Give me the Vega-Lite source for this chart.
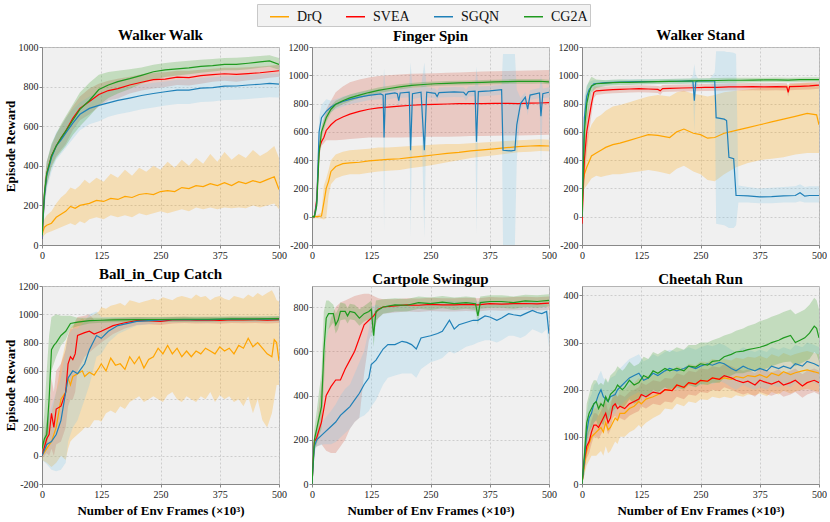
{
  "$schema": "https://vega.github.io/schema/vega-lite/v6.json",
  "padding": {"left": 3, "top": 3, "right": 0, "bottom": 0},
  "background": "white",
  "config": {
    "font": "Liberation Serif, Times New Roman, DejaVu Serif, serif",
    "view": {"fill": "#f0f0f0", "stroke": "#b4b4b4"},
    "axis": {
      "labelFont": "Liberation Serif, Times New Roman, DejaVu Serif, serif", "labelFontSize": 10, "labelColor": "#222", "labelPadding": 1,
      "labelFlush": false, "labelOverlap": false,
      "titleFont": "Liberation Serif, Times New Roman, DejaVu Serif, serif", "titleFontSize": 13, "titleFontWeight": "bold", "titleColor": "#000",
      "domainColor": "#888", "tickColor": "#888", "tickSize": 3,
      "gridColor": "#c4c4c4", "gridDash": [2, 2], "gridWidth": 0.8
    },
    "axisX": {"titlePadding": 5, "labelPadding": 2},
    "axisY": {"titlePadding": 1},
    "title": {"font": "Liberation Serif, Times New Roman, DejaVu Serif, serif", "fontSize": 15, "fontWeight": "bold", "offset": -1},
    "legend": {
      "symbolType": "stroke", "symbolSize": 361, "symbolStrokeWidth": 1.5, "symbolOffset": 10,
      "labelFont": "Liberation Serif, Times New Roman, DejaVu Serif, serif", "labelFontSize": 14, "labelColor": "#111", "labelOffset": 7,
      "columnPadding": 13, "fillColor": "#f2f2f2", "strokeColor": "#c8c8c8", "padding": 2
    }
  },
  "resolve": {"legend": {"stroke": "independent"}},
  "concat": [
    {
      "title": "Walker Walk", "width": 237, "height": 198, "data": {"name": "ww"},
      "encoding": {"x": {"field": "x", "type": "quantitative", "scale": {"domain": [0, 500], "nice": false}, "axis": {"values": [0, 125, 250, 375, 500], "title": null}}},
      "layer": [
        {"mark": {"type": "area", "fillOpacity": 0.25, "clip": true},
         "encoding": {
           "y": {"field": "l", "type": "quantitative", "scale": {"domain": [0, 1000], "nice": false, "zero": false}, "axis": {"values": [0, 200, 400, 600, 800, 1000], "labelExpr": "datum.value + ''", "title": "Episode Reward"}},
           "y2": {"field": "h"},
           "fill": {"field": "s", "type": "nominal", "scale": {"domain": ["DrQ", "SVEA", "SGQN", "CG2A"], "range": ["#ffa500", "#d4553a", "#7ec8e8", "#3ca028"]}, "legend": null}}},
        {"mark": {"type": "line", "strokeWidth": 1.2, "clip": true},
         "encoding": {
           "y": {"field": "y", "type": "quantitative", "axis": {"values": [0, 200, 400, 600, 800, 1000], "labelExpr": "datum.value + ''", "title": "Episode Reward"}},
           "stroke": {"field": "s", "type": "nominal", "scale": {"domain": ["DrQ", "SVEA", "SGQN", "CG2A"], "range": ["#ffa500", "#ff0000", "#1f80b8", "#1f9a1f"]}, "legend": null}}}
      ]
    },
    {
      "title": {"text": "Finger Spin", "offset": -40}, "width": 237, "height": 198, "data": {"name": "fs"},
      "encoding": {"x": {"field": "x", "type": "quantitative", "scale": {"domain": [0, 500], "nice": false}, "axis": {"values": [0, 125, 250, 375, 500], "title": null}}},
      "layer": [
        {"mark": {"type": "area", "fillOpacity": 0.25, "clip": true},
         "encoding": {
           "y": {"field": "l", "type": "quantitative", "scale": {"domain": [-200, 1200], "nice": false, "zero": false}, "axis": {"values": [-200, 0, 200, 400, 600, 800, 1000, 1200], "labelExpr": "datum.value + ''", "title": null}},
           "y2": {"field": "h"},
           "fill": {"field": "s", "type": "nominal", "scale": {"domain": ["DrQ", "SVEA", "SGQN", "CG2A"], "range": ["#ffa500", "#d4553a", "#7ec8e8", "#3ca028"]}, "legend": null}}},
        {"mark": {"type": "line", "strokeWidth": 1.2, "clip": true},
         "encoding": {
           "y": {"field": "y", "type": "quantitative", "axis": {"values": [-200, 0, 200, 400, 600, 800, 1000, 1200], "labelExpr": "datum.value + ''", "title": null}},
           "stroke": {"field": "s", "type": "nominal", "scale": {"domain": ["DrQ", "SVEA", "SGQN", "CG2A"], "range": ["#ffa500", "#ff0000", "#1f80b8", "#1f9a1f"]}, "legend": {"title": null, "orient": "none", "legendX": -55, "legendY": -43, "direction": "horizontal"}}}}
      ]
    },
    {
      "title": "Walker Stand", "width": 237, "height": 198, "data": {"name": "ws"},
      "encoding": {"x": {"field": "x", "type": "quantitative", "scale": {"domain": [0, 500], "nice": false}, "axis": {"values": [0, 125, 250, 375, 500], "title": null}}},
      "layer": [
        {"mark": {"type": "area", "fillOpacity": 0.25, "clip": true},
         "encoding": {
           "y": {"field": "l", "type": "quantitative", "scale": {"domain": [-200, 1200], "nice": false, "zero": false}, "axis": {"values": [-200, 0, 200, 400, 600, 800, 1000, 1200], "labelExpr": "datum.value + ''", "title": null}},
           "y2": {"field": "h"},
           "fill": {"field": "s", "type": "nominal", "scale": {"domain": ["DrQ", "SVEA", "SGQN", "CG2A"], "range": ["#ffa500", "#d4553a", "#7ec8e8", "#3ca028"]}, "legend": null}}},
        {"mark": {"type": "line", "strokeWidth": 1.2, "clip": true},
         "encoding": {
           "y": {"field": "y", "type": "quantitative", "axis": {"values": [-200, 0, 200, 400, 600, 800, 1000, 1200], "labelExpr": "datum.value + ''", "title": null}},
           "stroke": {"field": "s", "type": "nominal", "scale": {"domain": ["DrQ", "SVEA", "SGQN", "CG2A"], "range": ["#ffa500", "#ff0000", "#1f80b8", "#1f9a1f"]}, "legend": null}}}
      ]
    },
    {
      "title": "Ball_in_Cup Catch", "width": 237, "height": 198, "data": {"name": "bic"},
      "encoding": {"x": {"field": "x", "type": "quantitative", "scale": {"domain": [0, 500], "nice": false}, "axis": {"values": [0, 125, 250, 375, 500], "title": "Number of Env Frames (×10³)"}}},
      "layer": [
        {"mark": {"type": "area", "fillOpacity": 0.25, "clip": true},
         "encoding": {
           "y": {"field": "l", "type": "quantitative", "scale": {"domain": [-200, 1200], "nice": false, "zero": false}, "axis": {"values": [-200, 0, 200, 400, 600, 800, 1000, 1200], "labelExpr": "datum.value + ''", "title": "Episode Reward"}},
           "y2": {"field": "h"},
           "fill": {"field": "s", "type": "nominal", "scale": {"domain": ["DrQ", "SVEA", "SGQN", "CG2A"], "range": ["#ffa500", "#d4553a", "#7ec8e8", "#3ca028"]}, "legend": null}}},
        {"mark": {"type": "line", "strokeWidth": 1.2, "clip": true},
         "encoding": {
           "y": {"field": "y", "type": "quantitative", "axis": {"values": [-200, 0, 200, 400, 600, 800, 1000, 1200], "labelExpr": "datum.value + ''", "title": "Episode Reward"}},
           "stroke": {"field": "s", "type": "nominal", "scale": {"domain": ["DrQ", "SVEA", "SGQN", "CG2A"], "range": ["#ffa500", "#ff0000", "#1f80b8", "#1f9a1f"]}, "legend": null}}}
      ]
    },
    {
      "title": "Cartpole Swingup", "width": 237, "height": 198, "data": {"name": "cp"},
      "encoding": {"x": {"field": "x", "type": "quantitative", "scale": {"domain": [0, 500], "nice": false}, "axis": {"values": [0, 125, 250, 375, 500], "title": "Number of Env Frames (×10³)"}}},
      "layer": [
        {"mark": {"type": "area", "fillOpacity": 0.25, "clip": true},
         "encoding": {
           "y": {"field": "l", "type": "quantitative", "scale": {"domain": [0, 895], "nice": false, "zero": false}, "axis": {"values": [0, 200, 400, 600, 800], "labelExpr": "datum.value + ''", "title": null}},
           "y2": {"field": "h"},
           "fill": {"field": "s", "type": "nominal", "scale": {"domain": ["DrQ", "SVEA", "SGQN", "CG2A"], "range": ["#ffa500", "#d4553a", "#7ec8e8", "#3ca028"]}, "legend": null}}},
        {"mark": {"type": "line", "strokeWidth": 1.2, "clip": true},
         "encoding": {
           "y": {"field": "y", "type": "quantitative", "axis": {"values": [0, 200, 400, 600, 800], "labelExpr": "datum.value + ''", "title": null}},
           "stroke": {"field": "s", "type": "nominal", "scale": {"domain": ["DrQ", "SVEA", "SGQN", "CG2A"], "range": ["#ffa500", "#ff0000", "#1f80b8", "#1f9a1f"]}, "legend": null}}}
      ]
    },
    {
      "title": "Cheetah Run", "width": 237, "height": 198, "data": {"name": "ch"},
      "encoding": {"x": {"field": "x", "type": "quantitative", "scale": {"domain": [0, 500], "nice": false}, "axis": {"values": [0, 125, 250, 375, 500], "title": "Number of Env Frames (×10³)"}}},
      "layer": [
        {"mark": {"type": "area", "fillOpacity": 0.25, "clip": true},
         "encoding": {
           "y": {"field": "l", "type": "quantitative", "scale": {"domain": [0, 420], "nice": false, "zero": false}, "axis": {"values": [0, 100, 200, 300, 400], "labelExpr": "datum.value + ''", "title": null}},
           "y2": {"field": "h"},
           "fill": {"field": "s", "type": "nominal", "scale": {"domain": ["DrQ", "SVEA", "SGQN", "CG2A"], "range": ["#ffa500", "#d4553a", "#7ec8e8", "#3ca028"]}, "legend": null}}},
        {"mark": {"type": "line", "strokeWidth": 1.2, "clip": true},
         "encoding": {
           "y": {"field": "y", "type": "quantitative", "axis": {"values": [0, 100, 200, 300, 400], "labelExpr": "datum.value + ''", "title": null}},
           "stroke": {"field": "s", "type": "nominal", "scale": {"domain": ["DrQ", "SVEA", "SGQN", "CG2A"], "range": ["#ffa500", "#ff0000", "#1f80b8", "#1f9a1f"]}, "legend": null}}}
      ]
    }
  ],
  "columns": 3,
  "spacing": {"row": 41, "column": 33},
  "bounds": "flush",
  "datasets": {
    "ww": [
      {"s":"DrQ","x":0,"y":50,"l":30,"h":70},{"s":"DrQ","x":5,"y":90,"l":50,"h":130},{"s":"DrQ","x":10,"y":100,"l":60,"h":150},{"s":"DrQ","x":20,"y":110,"l":70,"h":170},{"s":"DrQ","x":30,"y":140,"l":80,"h":210},{"s":"DrQ","x":40,"y":155,"l":90,"h":240},{"s":"DrQ","x":50,"y":170,"l":100,"h":260},{"s":"DrQ","x":60,"y":195,"l":110,"h":290},{"s":"DrQ","x":70,"y":185,"l":100,"h":280},{"s":"DrQ","x":80,"y":200,"l":120,"h":300},{"s":"DrQ","x":90,"y":205,"l":110,"h":330},{"s":"DrQ","x":100,"y":210,"l":130,"h":310},{"s":"DrQ","x":115,"y":225,"l":140,"h":340},{"s":"DrQ","x":130,"y":220,"l":130,"h":320},{"s":"DrQ","x":145,"y":235,"l":150,"h":360},{"s":"DrQ","x":160,"y":230,"l":140,"h":340},{"s":"DrQ","x":175,"y":245,"l":150,"h":380},{"s":"DrQ","x":190,"y":240,"l":140,"h":350},{"s":"DrQ","x":205,"y":255,"l":160,"h":390},{"s":"DrQ","x":220,"y":260,"l":150,"h":370},{"s":"DrQ","x":235,"y":255,"l":160,"h":400},{"s":"DrQ","x":250,"y":270,"l":170,"h":380},{"s":"DrQ","x":265,"y":275,"l":160,"h":420},{"s":"DrQ","x":280,"y":270,"l":170,"h":390},{"s":"DrQ","x":295,"y":290,"l":180,"h":430},{"s":"DrQ","x":310,"y":285,"l":170,"h":400},{"s":"DrQ","x":325,"y":300,"l":190,"h":440},{"s":"DrQ","x":340,"y":295,"l":180,"h":410},{"s":"DrQ","x":355,"y":310,"l":190,"h":460},{"s":"DrQ","x":370,"y":300,"l":180,"h":420},{"s":"DrQ","x":385,"y":315,"l":190,"h":470},{"s":"DrQ","x":400,"y":300,"l":185,"h":430},{"s":"DrQ","x":415,"y":320,"l":190,"h":460},{"s":"DrQ","x":430,"y":310,"l":185,"h":440},{"s":"DrQ","x":445,"y":325,"l":200,"h":480},{"s":"DrQ","x":460,"y":315,"l":190,"h":450},{"s":"DrQ","x":475,"y":330,"l":200,"h":470},{"s":"DrQ","x":490,"y":345,"l":210,"h":500},{"s":"DrQ","x":500,"y":280,"l":180,"h":440},
      {"s":"SVEA","x":0,"y":30,"l":10,"h":50},{"s":"SVEA","x":5,"y":250,"l":200,"h":300},{"s":"SVEA","x":10,"y":360,"l":300,"h":420},{"s":"SVEA","x":20,"y":450,"l":400,"h":500},{"s":"SVEA","x":30,"y":500,"l":450,"h":560},{"s":"SVEA","x":40,"y":540,"l":480,"h":600},{"s":"SVEA","x":50,"y":575,"l":510,"h":640},{"s":"SVEA","x":65,"y":640,"l":580,"h":700},{"s":"SVEA","x":80,"y":690,"l":630,"h":750},{"s":"SVEA","x":100,"y":725,"l":660,"h":790},{"s":"SVEA","x":120,"y":760,"l":700,"h":815},{"s":"SVEA","x":140,"y":780,"l":730,"h":830},{"s":"SVEA","x":160,"y":790,"l":740,"h":840},{"s":"SVEA","x":185,"y":808,"l":765,"h":850},{"s":"SVEA","x":210,"y":822,"l":780,"h":862},{"s":"SVEA","x":235,"y":835,"l":790,"h":870},{"s":"SVEA","x":260,"y":838,"l":798,"h":873},{"s":"SVEA","x":285,"y":848,"l":808,"h":880},{"s":"SVEA","x":310,"y":845,"l":805,"h":880},{"s":"SVEA","x":335,"y":855,"l":815,"h":885},{"s":"SVEA","x":360,"y":860,"l":825,"h":890},{"s":"SVEA","x":385,"y":865,"l":830,"h":895},{"s":"SVEA","x":410,"y":862,"l":825,"h":895},{"s":"SVEA","x":435,"y":866,"l":832,"h":898},{"s":"SVEA","x":460,"y":870,"l":838,"h":902},{"s":"SVEA","x":480,"y":875,"l":845,"h":905},{"s":"SVEA","x":500,"y":880,"l":850,"h":910},
      {"s":"SGQN","x":0,"y":30,"l":10,"h":50},{"s":"SGQN","x":5,"y":240,"l":180,"h":300},{"s":"SGQN","x":10,"y":350,"l":280,"h":420},{"s":"SGQN","x":20,"y":440,"l":370,"h":510},{"s":"SGQN","x":30,"y":500,"l":430,"h":570},{"s":"SGQN","x":40,"y":530,"l":460,"h":600},{"s":"SGQN","x":50,"y":565,"l":490,"h":640},{"s":"SGQN","x":65,"y":615,"l":535,"h":685},{"s":"SGQN","x":80,"y":660,"l":580,"h":720},{"s":"SGQN","x":100,"y":690,"l":610,"h":750},{"s":"SGQN","x":120,"y":705,"l":625,"h":765},{"s":"SGQN","x":140,"y":718,"l":648,"h":778},{"s":"SGQN","x":160,"y":730,"l":660,"h":790},{"s":"SGQN","x":185,"y":742,"l":672,"h":798},{"s":"SGQN","x":210,"y":755,"l":685,"h":810},{"s":"SGQN","x":235,"y":765,"l":695,"h":820},{"s":"SGQN","x":260,"y":774,"l":704,"h":826},{"s":"SGQN","x":285,"y":782,"l":712,"h":834},{"s":"SGQN","x":310,"y":782,"l":712,"h":836},{"s":"SGQN","x":335,"y":792,"l":722,"h":844},{"s":"SGQN","x":360,"y":795,"l":725,"h":847},{"s":"SGQN","x":385,"y":802,"l":732,"h":852},{"s":"SGQN","x":410,"y":803,"l":733,"h":854},{"s":"SGQN","x":435,"y":808,"l":738,"h":858},{"s":"SGQN","x":460,"y":812,"l":742,"h":862},{"s":"SGQN","x":480,"y":816,"l":746,"h":866},{"s":"SGQN","x":500,"y":812,"l":745,"h":865},
      {"s":"CG2A","x":0,"y":50,"l":20,"h":80},{"s":"CG2A","x":5,"y":260,"l":200,"h":320},{"s":"CG2A","x":10,"y":360,"l":300,"h":420},{"s":"CG2A","x":20,"y":450,"l":390,"h":510},{"s":"CG2A","x":30,"y":500,"l":440,"h":560},{"s":"CG2A","x":40,"y":540,"l":470,"h":610},{"s":"CG2A","x":50,"y":575,"l":500,"h":650},{"s":"CG2A","x":65,"y":630,"l":555,"h":710},{"s":"CG2A","x":80,"y":685,"l":600,"h":770},{"s":"CG2A","x":100,"y":730,"l":650,"h":820},{"s":"CG2A","x":120,"y":785,"l":705,"h":860},{"s":"CG2A","x":140,"y":808,"l":742,"h":874},{"s":"CG2A","x":160,"y":825,"l":765,"h":880},{"s":"CG2A","x":185,"y":840,"l":788,"h":888},{"s":"CG2A","x":210,"y":857,"l":814,"h":897},{"s":"CG2A","x":235,"y":875,"l":835,"h":910},{"s":"CG2A","x":260,"y":884,"l":849,"h":919},{"s":"CG2A","x":285,"y":890,"l":856,"h":926},{"s":"CG2A","x":310,"y":895,"l":862,"h":930},{"s":"CG2A","x":335,"y":902,"l":870,"h":935},{"s":"CG2A","x":360,"y":906,"l":876,"h":939},{"s":"CG2A","x":385,"y":912,"l":882,"h":944},{"s":"CG2A","x":410,"y":912,"l":882,"h":946},{"s":"CG2A","x":435,"y":918,"l":888,"h":950},{"s":"CG2A","x":460,"y":925,"l":895,"h":955},{"s":"CG2A","x":480,"y":930,"l":900,"h":958},{"s":"CG2A","x":500,"y":912,"l":885,"h":945}
    ],
    "fs": [
      {"s":"DrQ","x":0,"y":0,"l":-10,"h":10},{"s":"DrQ","x":10,"y":0,"l":-10,"h":10},{"s":"DrQ","x":20,"y":5,"l":-15,"h":30},{"s":"DrQ","x":25,"y":100,"l":-20,"h":220},{"s":"DrQ","x":30,"y":200,"l":-10,"h":270},{"s":"DrQ","x":35,"y":250,"l":150,"h":330},{"s":"DrQ","x":40,"y":320,"l":230,"h":400},{"s":"DrQ","x":50,"y":355,"l":270,"h":440},{"s":"DrQ","x":65,"y":375,"l":290,"h":460},{"s":"DrQ","x":80,"y":380,"l":300,"h":470},{"s":"DrQ","x":100,"y":385,"l":300,"h":475},{"s":"DrQ","x":120,"y":395,"l":310,"h":480},{"s":"DrQ","x":140,"y":400,"l":320,"h":490},{"s":"DrQ","x":160,"y":405,"l":325,"h":490},{"s":"DrQ","x":185,"y":410,"l":330,"h":495},{"s":"DrQ","x":210,"y":420,"l":345,"h":500},{"s":"DrQ","x":235,"y":428,"l":355,"h":505},{"s":"DrQ","x":260,"y":438,"l":370,"h":510},{"s":"DrQ","x":285,"y":448,"l":385,"h":515},{"s":"DrQ","x":310,"y":455,"l":400,"h":515},{"s":"DrQ","x":335,"y":465,"l":415,"h":520},{"s":"DrQ","x":360,"y":472,"l":425,"h":525},{"s":"DrQ","x":385,"y":480,"l":435,"h":530},{"s":"DrQ","x":410,"y":488,"l":445,"h":535},{"s":"DrQ","x":435,"y":495,"l":455,"h":540},{"s":"DrQ","x":460,"y":500,"l":460,"h":545},{"s":"DrQ","x":480,"y":503,"l":465,"h":548},{"s":"DrQ","x":500,"y":500,"l":462,"h":545},
      {"s":"SVEA","x":0,"y":0,"l":-10,"h":10},{"s":"SVEA","x":5,"y":0,"l":-10,"h":10},{"s":"SVEA","x":10,"y":120,"l":60,"h":200},{"s":"SVEA","x":15,"y":480,"l":420,"h":560},{"s":"SVEA","x":20,"y":530,"l":500,"h":620},{"s":"SVEA","x":25,"y":560,"l":520,"h":700},{"s":"SVEA","x":30,"y":610,"l":540,"h":760},{"s":"SVEA","x":40,"y":650,"l":540,"h":820},{"s":"SVEA","x":50,"y":680,"l":540,"h":880},{"s":"SVEA","x":65,"y":705,"l":545,"h":920},{"s":"SVEA","x":80,"y":725,"l":550,"h":950},{"s":"SVEA","x":100,"y":745,"l":555,"h":970},{"s":"SVEA","x":120,"y":760,"l":560,"h":985},{"s":"SVEA","x":140,"y":770,"l":560,"h":995},{"s":"SVEA","x":160,"y":775,"l":560,"h":1000},{"s":"SVEA","x":185,"y":782,"l":560,"h":1005},{"s":"SVEA","x":210,"y":788,"l":562,"h":1010},{"s":"SVEA","x":235,"y":792,"l":565,"h":1012},{"s":"SVEA","x":260,"y":795,"l":565,"h":1015},{"s":"SVEA","x":285,"y":797,"l":566,"h":1018},{"s":"SVEA","x":310,"y":799,"l":568,"h":1020},{"s":"SVEA","x":335,"y":800,"l":570,"h":1024},{"s":"SVEA","x":360,"y":800,"l":570,"h":1026},{"s":"SVEA","x":385,"y":801,"l":572,"h":1028},{"s":"SVEA","x":410,"y":802,"l":574,"h":1030},{"s":"SVEA","x":435,"y":800,"l":575,"h":1032},{"s":"SVEA","x":460,"y":803,"l":576,"h":1034},{"s":"SVEA","x":480,"y":804,"l":578,"h":1036},{"s":"SVEA","x":500,"y":806,"l":580,"h":1038},
      {"s":"SGQN","x":0,"y":0,"l":-10,"h":10},{"s":"SGQN","x":5,"y":0,"l":-10,"h":10},{"s":"SGQN","x":10,"y":100,"l":40,"h":180},{"s":"SGQN","x":15,"y":600,"l":520,"h":700},{"s":"SGQN","x":20,"y":700,"l":640,"h":790},{"s":"SGQN","x":30,"y":745,"l":700,"h":830},{"s":"SGQN","x":40,"y":775,"l":740,"h":820},{"s":"SGQN","x":50,"y":795,"l":760,"h":830},{"s":"SGQN","x":65,"y":815,"l":780,"h":850},{"s":"SGQN","x":80,"y":830,"l":795,"h":865},{"s":"SGQN","x":100,"y":845,"l":810,"h":880},{"s":"SGQN","x":120,"y":858,"l":823,"h":893},{"s":"SGQN","x":145,"y":868,"l":833,"h":903},{"s":"SGQN","x":150,"y":860,"l":820,"h":900},{"s":"SGQN","x":152,"y":560,"l":-100,"h":1050},{"s":"SGQN","x":155,"y":865,"l":825,"h":905},{"s":"SGQN","x":175,"y":875,"l":840,"h":910},{"s":"SGQN","x":180,"y":870,"l":835,"h":905},{"s":"SGQN","x":183,"y":820,"l":760,"h":880},{"s":"SGQN","x":186,"y":875,"l":840,"h":910},{"s":"SGQN","x":205,"y":880,"l":845,"h":915},{"s":"SGQN","x":208,"y":470,"l":-150,"h":1090},{"s":"SGQN","x":212,"y":870,"l":830,"h":910},{"s":"SGQN","x":230,"y":880,"l":845,"h":915},{"s":"SGQN","x":237,"y":470,"l":-150,"h":1090},{"s":"SGQN","x":242,"y":880,"l":845,"h":915},{"s":"SGQN","x":260,"y":872,"l":837,"h":907},{"s":"SGQN","x":264,"y":850,"l":810,"h":890},{"s":"SGQN","x":268,"y":878,"l":843,"h":913},{"s":"SGQN","x":300,"y":882,"l":847,"h":917},{"s":"SGQN","x":320,"y":880,"l":845,"h":915},{"s":"SGQN","x":325,"y":860,"l":820,"h":900},{"s":"SGQN","x":330,"y":885,"l":850,"h":920},{"s":"SGQN","x":344,"y":888,"l":853,"h":923},{"s":"SGQN","x":347,"y":530,"l":-130,"h":1060},{"s":"SGQN","x":351,"y":885,"l":850,"h":920},{"s":"SGQN","x":375,"y":890,"l":855,"h":925},{"s":"SGQN","x":400,"y":898,"l":863,"h":933},{"s":"SGQN","x":403,"y":470,"l":-200,"h":1150},{"s":"SGQN","x":420,"y":465,"l":-200,"h":1150},{"s":"SGQN","x":428,"y":470,"l":-200,"h":1150},{"s":"SGQN","x":432,"y":650,"l":400,"h":900},{"s":"SGQN","x":440,"y":800,"l":760,"h":840},{"s":"SGQN","x":450,"y":845,"l":810,"h":880},{"s":"SGQN","x":455,"y":760,"l":720,"h":800},{"s":"SGQN","x":460,"y":860,"l":825,"h":895},{"s":"SGQN","x":480,"y":875,"l":840,"h":910},{"s":"SGQN","x":483,"y":710,"l":350,"h":1000},{"s":"SGQN","x":487,"y":870,"l":835,"h":905},{"s":"SGQN","x":500,"y":880,"l":845,"h":915},
      {"s":"CG2A","x":0,"y":0,"l":-10,"h":10},{"s":"CG2A","x":5,"y":0,"l":-10,"h":10},{"s":"CG2A","x":10,"y":80,"l":40,"h":120},{"s":"CG2A","x":15,"y":450,"l":400,"h":500},{"s":"CG2A","x":20,"y":600,"l":560,"h":640},{"s":"CG2A","x":30,"y":700,"l":670,"h":730},{"s":"CG2A","x":40,"y":760,"l":735,"h":785},{"s":"CG2A","x":50,"y":795,"l":770,"h":820},{"s":"CG2A","x":65,"y":820,"l":795,"h":845},{"s":"CG2A","x":80,"y":840,"l":815,"h":865},{"s":"CG2A","x":100,"y":860,"l":838,"h":882},{"s":"CG2A","x":120,"y":878,"l":858,"h":898},{"s":"CG2A","x":140,"y":893,"l":873,"h":913},{"s":"CG2A","x":160,"y":905,"l":886,"h":924},{"s":"CG2A","x":185,"y":918,"l":900,"h":936},{"s":"CG2A","x":210,"y":928,"l":911,"h":945},{"s":"CG2A","x":235,"y":935,"l":918,"h":952},{"s":"CG2A","x":260,"y":940,"l":924,"h":956},{"s":"CG2A","x":285,"y":943,"l":927,"h":959},{"s":"CG2A","x":310,"y":946,"l":930,"h":962},{"s":"CG2A","x":335,"y":948,"l":932,"h":964},{"s":"CG2A","x":360,"y":950,"l":934,"h":966},{"s":"CG2A","x":385,"y":953,"l":937,"h":969},{"s":"CG2A","x":410,"y":955,"l":939,"h":971},{"s":"CG2A","x":435,"y":957,"l":941,"h":973},{"s":"CG2A","x":460,"y":957,"l":941,"h":973},{"s":"CG2A","x":480,"y":958,"l":942,"h":974},{"s":"CG2A","x":500,"y":953,"l":937,"h":969}
    ],
    "ws": [
      {"s":"DrQ","x":0,"y":200,"l":150,"h":250},{"s":"DrQ","x":5,"y":300,"l":200,"h":450},{"s":"DrQ","x":10,"y":350,"l":220,"h":560},{"s":"DrQ","x":20,"y":430,"l":270,"h":650},{"s":"DrQ","x":30,"y":450,"l":290,"h":700},{"s":"DrQ","x":40,"y":470,"l":280,"h":720},{"s":"DrQ","x":50,"y":490,"l":290,"h":750},{"s":"DrQ","x":65,"y":510,"l":300,"h":780},{"s":"DrQ","x":80,"y":520,"l":300,"h":790},{"s":"DrQ","x":100,"y":540,"l":310,"h":810},{"s":"DrQ","x":120,"y":560,"l":320,"h":830},{"s":"DrQ","x":140,"y":580,"l":330,"h":850},{"s":"DrQ","x":160,"y":575,"l":320,"h":860},{"s":"DrQ","x":185,"y":560,"l":300,"h":850},{"s":"DrQ","x":200,"y":600,"l":340,"h":880},{"s":"DrQ","x":215,"y":620,"l":360,"h":890},{"s":"DrQ","x":235,"y":590,"l":320,"h":870},{"s":"DrQ","x":250,"y":580,"l":300,"h":860},{"s":"DrQ","x":265,"y":555,"l":260,"h":850},{"s":"DrQ","x":280,"y":560,"l":250,"h":860},{"s":"DrQ","x":300,"y":590,"l":300,"h":880},{"s":"DrQ","x":325,"y":610,"l":350,"h":890},{"s":"DrQ","x":350,"y":630,"l":380,"h":900},{"s":"DrQ","x":375,"y":650,"l":400,"h":910},{"s":"DrQ","x":400,"y":670,"l":410,"h":920},{"s":"DrQ","x":425,"y":690,"l":420,"h":930},{"s":"DrQ","x":450,"y":710,"l":440,"h":940},{"s":"DrQ","x":475,"y":730,"l":450,"h":945},{"s":"DrQ","x":495,"y":720,"l":450,"h":940},{"s":"DrQ","x":500,"y":650,"l":450,"h":920},
      {"s":"SVEA","x":0,"y":-50,"l":-80,"h":-20},{"s":"SVEA","x":5,"y":400,"l":250,"h":550},{"s":"SVEA","x":10,"y":600,"l":450,"h":720},{"s":"SVEA","x":15,"y":700,"l":600,"h":800},{"s":"SVEA","x":20,"y":800,"l":720,"h":870},{"s":"SVEA","x":25,"y":880,"l":840,"h":920},{"s":"SVEA","x":30,"y":890,"l":860,"h":920},{"s":"SVEA","x":50,"y":895,"l":870,"h":920},{"s":"SVEA","x":65,"y":898,"l":873,"h":923},{"s":"SVEA","x":80,"y":900,"l":875,"h":925},{"s":"SVEA","x":100,"y":903,"l":878,"h":928},{"s":"SVEA","x":120,"y":905,"l":880,"h":930},{"s":"SVEA","x":140,"y":903,"l":878,"h":928},{"s":"SVEA","x":160,"y":900,"l":875,"h":925},{"s":"SVEA","x":165,"y":890,"l":860,"h":920},{"s":"SVEA","x":170,"y":906,"l":881,"h":931},{"s":"SVEA","x":185,"y":908,"l":883,"h":933},{"s":"SVEA","x":210,"y":910,"l":885,"h":935},{"s":"SVEA","x":235,"y":912,"l":887,"h":937},{"s":"SVEA","x":260,"y":914,"l":889,"h":939},{"s":"SVEA","x":285,"y":915,"l":890,"h":940},{"s":"SVEA","x":310,"y":918,"l":893,"h":943},{"s":"SVEA","x":335,"y":918,"l":893,"h":943},{"s":"SVEA","x":360,"y":920,"l":895,"h":945},{"s":"SVEA","x":385,"y":918,"l":893,"h":943},{"s":"SVEA","x":410,"y":920,"l":895,"h":945},{"s":"SVEA","x":432,"y":918,"l":893,"h":943},{"s":"SVEA","x":435,"y":880,"l":850,"h":910},{"s":"SVEA","x":438,"y":920,"l":895,"h":945},{"s":"SVEA","x":460,"y":922,"l":897,"h":947},{"s":"SVEA","x":480,"y":925,"l":900,"h":950},{"s":"SVEA","x":500,"y":930,"l":905,"h":955},
      {"s":"SGQN","x":0,"y":0,"l":-50,"h":100},{"s":"SGQN","x":5,"y":700,"l":550,"h":850},{"s":"SGQN","x":10,"y":850,"l":750,"h":930},{"s":"SGQN","x":15,"y":900,"l":840,"h":950},{"s":"SGQN","x":20,"y":920,"l":880,"h":960},{"s":"SGQN","x":25,"y":940,"l":915,"h":965},{"s":"SGQN","x":50,"y":948,"l":930,"h":966},{"s":"SGQN","x":80,"y":952,"l":934,"h":970},{"s":"SGQN","x":120,"y":955,"l":937,"h":973},{"s":"SGQN","x":160,"y":956,"l":938,"h":974},{"s":"SGQN","x":200,"y":958,"l":940,"h":976},{"s":"SGQN","x":230,"y":960,"l":942,"h":978},{"s":"SGQN","x":234,"y":958,"l":900,"h":1000},{"s":"SGQN","x":237,"y":820,"l":600,"h":1080},{"s":"SGQN","x":240,"y":955,"l":900,"h":1000},{"s":"SGQN","x":245,"y":960,"l":942,"h":978},{"s":"SGQN","x":270,"y":960,"l":942,"h":978},{"s":"SGQN","x":280,"y":960,"l":900,"h":1020},{"s":"SGQN","x":283,"y":700,"l":-50,"h":1170},{"s":"SGQN","x":300,"y":690,"l":-60,"h":1170},{"s":"SGQN","x":305,"y":680,"l":-70,"h":1165},{"s":"SGQN","x":310,"y":420,"l":-80,"h":1165},{"s":"SGQN","x":320,"y":410,"l":-80,"h":1160},{"s":"SGQN","x":325,"y":150,"l":-60,"h":1150},{"s":"SGQN","x":330,"y":150,"l":100,"h":220},{"s":"SGQN","x":350,"y":148,"l":100,"h":210},{"s":"SGQN","x":375,"y":140,"l":95,"h":200},{"s":"SGQN","x":400,"y":142,"l":95,"h":205},{"s":"SGQN","x":425,"y":148,"l":100,"h":210},{"s":"SGQN","x":450,"y":150,"l":100,"h":215},{"s":"SGQN","x":460,"y":170,"l":110,"h":230},{"s":"SGQN","x":470,"y":145,"l":100,"h":210},{"s":"SGQN","x":480,"y":150,"l":100,"h":215},{"s":"SGQN","x":500,"y":150,"l":100,"h":215},
      {"s":"CG2A","x":0,"y":0,"l":-20,"h":100},{"s":"CG2A","x":5,"y":600,"l":400,"h":800},{"s":"CG2A","x":10,"y":800,"l":650,"h":920},{"s":"CG2A","x":15,"y":880,"l":780,"h":960},{"s":"CG2A","x":20,"y":925,"l":880,"h":990},{"s":"CG2A","x":30,"y":940,"l":910,"h":970},{"s":"CG2A","x":50,"y":945,"l":925,"h":965},{"s":"CG2A","x":65,"y":948,"l":928,"h":968},{"s":"CG2A","x":80,"y":950,"l":930,"h":970},{"s":"CG2A","x":100,"y":950,"l":932,"h":968},{"s":"CG2A","x":120,"y":952,"l":935,"h":970},{"s":"CG2A","x":140,"y":953,"l":936,"h":970},{"s":"CG2A","x":160,"y":955,"l":938,"h":972},{"s":"CG2A","x":185,"y":957,"l":940,"h":974},{"s":"CG2A","x":210,"y":958,"l":941,"h":975},{"s":"CG2A","x":235,"y":960,"l":943,"h":977},{"s":"CG2A","x":260,"y":962,"l":945,"h":979},{"s":"CG2A","x":285,"y":963,"l":946,"h":980},{"s":"CG2A","x":310,"y":965,"l":948,"h":982},{"s":"CG2A","x":335,"y":965,"l":948,"h":982},{"s":"CG2A","x":360,"y":966,"l":950,"h":982},{"s":"CG2A","x":385,"y":967,"l":951,"h":983},{"s":"CG2A","x":410,"y":968,"l":952,"h":984},{"s":"CG2A","x":435,"y":966,"l":950,"h":982},{"s":"CG2A","x":460,"y":969,"l":953,"h":985},{"s":"CG2A","x":480,"y":970,"l":954,"h":986},{"s":"CG2A","x":500,"y":970,"l":954,"h":986}
    ],
    "bic": [
      {"s":"DrQ","x":0,"y":0,"l":-30,"h":30},{"s":"DrQ","x":10,"y":50,"l":-50,"h":200},{"s":"DrQ","x":20,"y":100,"l":-80,"h":300},{"s":"DrQ","x":30,"y":200,"l":-50,"h":450},{"s":"DrQ","x":40,"y":400,"l":0,"h":650},{"s":"DrQ","x":50,"y":450,"l":-30,"h":800},{"s":"DrQ","x":55,"y":550,"l":50,"h":850},{"s":"DrQ","x":60,"y":500,"l":100,"h":900},{"s":"DrQ","x":65,"y":560,"l":120,"h":920},{"s":"DrQ","x":75,"y":580,"l":150,"h":950},{"s":"DrQ","x":85,"y":600,"l":180,"h":970},{"s":"DrQ","x":90,"y":560,"l":200,"h":960},{"s":"DrQ","x":100,"y":590,"l":200,"h":980},{"s":"DrQ","x":110,"y":570,"l":250,"h":1000},{"s":"DrQ","x":120,"y":620,"l":250,"h":1020},{"s":"DrQ","x":125,"y":650,"l":240,"h":1050},{"s":"DrQ","x":135,"y":600,"l":300,"h":1040},{"s":"DrQ","x":145,"y":690,"l":320,"h":1060},{"s":"DrQ","x":155,"y":640,"l":300,"h":1070},{"s":"DrQ","x":165,"y":650,"l":350,"h":1080},{"s":"DrQ","x":175,"y":610,"l":330,"h":1060},{"s":"DrQ","x":185,"y":700,"l":380,"h":1100},{"s":"DrQ","x":195,"y":650,"l":400,"h":1090},{"s":"DrQ","x":205,"y":700,"l":420,"h":1080},{"s":"DrQ","x":215,"y":620,"l":380,"h":1090},{"s":"DrQ","x":225,"y":680,"l":400,"h":1100},{"s":"DrQ","x":235,"y":700,"l":420,"h":1110},{"s":"DrQ","x":245,"y":760,"l":400,"h":1100},{"s":"DrQ","x":255,"y":720,"l":380,"h":1120},{"s":"DrQ","x":265,"y":780,"l":430,"h":1110},{"s":"DrQ","x":275,"y":720,"l":450,"h":1100},{"s":"DrQ","x":285,"y":760,"l":400,"h":1120},{"s":"DrQ","x":295,"y":700,"l":380,"h":1130},{"s":"DrQ","x":305,"y":740,"l":420,"h":1120},{"s":"DrQ","x":315,"y":700,"l":400,"h":1110},{"s":"DrQ","x":325,"y":740,"l":380,"h":1140},{"s":"DrQ","x":335,"y":720,"l":420,"h":1120},{"s":"DrQ","x":345,"y":760,"l":400,"h":1130},{"s":"DrQ","x":355,"y":740,"l":450,"h":1100},{"s":"DrQ","x":365,"y":720,"l":380,"h":1120},{"s":"DrQ","x":375,"y":770,"l":430,"h":1130},{"s":"DrQ","x":385,"y":740,"l":400,"h":1110},{"s":"DrQ","x":395,"y":760,"l":420,"h":1100},{"s":"DrQ","x":405,"y":720,"l":380,"h":1130},{"s":"DrQ","x":415,"y":780,"l":400,"h":1120},{"s":"DrQ","x":425,"y":760,"l":350,"h":1110},{"s":"DrQ","x":435,"y":830,"l":420,"h":1140},{"s":"DrQ","x":445,"y":770,"l":300,"h":1120},{"s":"DrQ","x":455,"y":800,"l":400,"h":1150},{"s":"DrQ","x":465,"y":760,"l":250,"h":1130},{"s":"DrQ","x":475,"y":720,"l":200,"h":1150},{"s":"DrQ","x":485,"y":700,"l":300,"h":1170},{"s":"DrQ","x":490,"y":820,"l":400,"h":1140},{"s":"DrQ","x":495,"y":800,"l":500,"h":1100},{"s":"DrQ","x":500,"y":670,"l":500,"h":1090},
      {"s":"SVEA","x":0,"y":0,"l":-20,"h":20},{"s":"SVEA","x":10,"y":120,"l":20,"h":250},{"s":"SVEA","x":15,"y":150,"l":0,"h":300},{"s":"SVEA","x":20,"y":300,"l":50,"h":550},{"s":"SVEA","x":25,"y":200,"l":0,"h":450},{"s":"SVEA","x":30,"y":330,"l":80,"h":600},{"s":"SVEA","x":40,"y":350,"l":100,"h":650},{"s":"SVEA","x":50,"y":450,"l":200,"h":750},{"s":"SVEA","x":55,"y":650,"l":350,"h":850},{"s":"SVEA","x":60,"y":700,"l":400,"h":900},{"s":"SVEA","x":65,"y":680,"l":400,"h":900},{"s":"SVEA","x":70,"y":720,"l":450,"h":950},{"s":"SVEA","x":75,"y":850,"l":600,"h":980},{"s":"SVEA","x":90,"y":870,"l":700,"h":990},{"s":"SVEA","x":100,"y":880,"l":730,"h":1000},{"s":"SVEA","x":110,"y":860,"l":760,"h":960},{"s":"SVEA","x":125,"y":880,"l":800,"h":960},{"s":"SVEA","x":150,"y":920,"l":860,"h":970},{"s":"SVEA","x":175,"y":940,"l":900,"h":975},{"s":"SVEA","x":200,"y":955,"l":925,"h":980},{"s":"SVEA","x":225,"y":955,"l":930,"h":978},{"s":"SVEA","x":250,"y":950,"l":925,"h":975},{"s":"SVEA","x":275,"y":960,"l":935,"h":980},{"s":"SVEA","x":300,"y":962,"l":938,"h":982},{"s":"SVEA","x":325,"y":958,"l":934,"h":978},{"s":"SVEA","x":350,"y":960,"l":936,"h":980},{"s":"SVEA","x":375,"y":957,"l":933,"h":978},{"s":"SVEA","x":400,"y":962,"l":938,"h":982},{"s":"SVEA","x":425,"y":960,"l":936,"h":980},{"s":"SVEA","x":450,"y":962,"l":938,"h":982},{"s":"SVEA","x":475,"y":958,"l":934,"h":978},{"s":"SVEA","x":500,"y":962,"l":938,"h":982},
      {"s":"SGQN","x":0,"y":0,"l":-30,"h":30},{"s":"SGQN","x":10,"y":80,"l":-60,"h":250},{"s":"SGQN","x":20,"y":100,"l":-100,"h":350},{"s":"SGQN","x":30,"y":150,"l":-110,"h":450},{"s":"SGQN","x":40,"y":250,"l":-100,"h":550},{"s":"SGQN","x":50,"y":450,"l":-50,"h":750},{"s":"SGQN","x":55,"y":550,"l":100,"h":850},{"s":"SGQN","x":65,"y":600,"l":200,"h":900},{"s":"SGQN","x":75,"y":580,"l":250,"h":900},{"s":"SGQN","x":90,"y":650,"l":400,"h":950},{"s":"SGQN","x":100,"y":750,"l":500,"h":1000},{"s":"SGQN","x":115,"y":850,"l":700,"h":1020},{"s":"SGQN","x":125,"y":830,"l":720,"h":980},{"s":"SGQN","x":140,"y":880,"l":800,"h":980},{"s":"SGQN","x":160,"y":920,"l":860,"h":980},{"s":"SGQN","x":200,"y":950,"l":920,"h":980},{"s":"SGQN","x":250,"y":960,"l":940,"h":980},{"s":"SGQN","x":300,"y":963,"l":943,"h":983},{"s":"SGQN","x":350,"y":962,"l":942,"h":982},{"s":"SGQN","x":400,"y":965,"l":945,"h":985},{"s":"SGQN","x":450,"y":965,"l":945,"h":985},{"s":"SGQN","x":500,"y":968,"l":948,"h":988},
      {"s":"CG2A","x":0,"y":50,"l":0,"h":120},{"s":"CG2A","x":5,"y":120,"l":20,"h":300},{"s":"CG2A","x":10,"y":150,"l":50,"h":600},{"s":"CG2A","x":15,"y":400,"l":200,"h":850},{"s":"CG2A","x":20,"y":750,"l":600,"h":980},{"s":"CG2A","x":25,"y":780,"l":650,"h":990},{"s":"CG2A","x":30,"y":800,"l":700,"h":1000},{"s":"CG2A","x":40,"y":850,"l":780,"h":990},{"s":"CG2A","x":50,"y":880,"l":820,"h":990},{"s":"CG2A","x":60,"y":935,"l":900,"h":990},{"s":"CG2A","x":75,"y":945,"l":915,"h":975},{"s":"CG2A","x":100,"y":955,"l":935,"h":975},{"s":"CG2A","x":125,"y":958,"l":940,"h":976},{"s":"CG2A","x":150,"y":960,"l":943,"h":977},{"s":"CG2A","x":200,"y":962,"l":945,"h":979},{"s":"CG2A","x":250,"y":963,"l":946,"h":980},{"s":"CG2A","x":300,"y":965,"l":948,"h":982},{"s":"CG2A","x":350,"y":965,"l":948,"h":982},{"s":"CG2A","x":400,"y":967,"l":950,"h":984},{"s":"CG2A","x":450,"y":968,"l":951,"h":985},{"s":"CG2A","x":500,"y":970,"l":953,"h":987}
    ],
    "cp": [
      {"s":"SVEA","x":0,"y":0,"l":0,"h":0},{"s":"SVEA","x":5,"y":190,"l":160,"h":220},{"s":"SVEA","x":10,"y":210,"l":170,"h":260},{"s":"SVEA","x":20,"y":280,"l":180,"h":450},{"s":"SVEA","x":30,"y":400,"l":150,"h":650},{"s":"SVEA","x":40,"y":440,"l":140,"h":750},{"s":"SVEA","x":50,"y":470,"l":140,"h":800},{"s":"SVEA","x":60,"y":470,"l":170,"h":820},{"s":"SVEA","x":70,"y":520,"l":200,"h":830},{"s":"SVEA","x":80,"y":560,"l":250,"h":840},{"s":"SVEA","x":90,"y":600,"l":280,"h":850},{"s":"SVEA","x":100,"y":660,"l":300,"h":855},{"s":"SVEA","x":110,"y":720,"l":500,"h":860},{"s":"SVEA","x":120,"y":740,"l":650,"h":860},{"s":"SVEA","x":130,"y":760,"l":700,"h":850},{"s":"SVEA","x":140,"y":790,"l":750,"h":840},{"s":"SVEA","x":150,"y":800,"l":770,"h":835},{"s":"SVEA","x":175,"y":805,"l":775,"h":835},{"s":"SVEA","x":200,"y":810,"l":780,"h":840},{"s":"SVEA","x":225,"y":808,"l":778,"h":838},{"s":"SVEA","x":250,"y":812,"l":782,"h":842},{"s":"SVEA","x":275,"y":810,"l":780,"h":840},{"s":"SVEA","x":300,"y":810,"l":780,"h":840},{"s":"SVEA","x":325,"y":812,"l":782,"h":842},{"s":"SVEA","x":350,"y":810,"l":780,"h":840},{"s":"SVEA","x":375,"y":815,"l":785,"h":845},{"s":"SVEA","x":400,"y":813,"l":783,"h":843},{"s":"SVEA","x":425,"y":815,"l":785,"h":845},{"s":"SVEA","x":450,"y":816,"l":786,"h":846},{"s":"SVEA","x":475,"y":814,"l":784,"h":844},{"s":"SVEA","x":500,"y":818,"l":788,"h":848},
      {"s":"SGQN","x":0,"y":0,"l":0,"h":0},{"s":"SGQN","x":5,"y":170,"l":140,"h":200},{"s":"SGQN","x":10,"y":200,"l":170,"h":240},{"s":"SGQN","x":25,"y":230,"l":180,"h":290},{"s":"SGQN","x":40,"y":260,"l":180,"h":330},{"s":"SGQN","x":50,"y":280,"l":190,"h":360},{"s":"SGQN","x":60,"y":310,"l":210,"h":400},{"s":"SGQN","x":70,"y":330,"l":230,"h":430},{"s":"SGQN","x":80,"y":350,"l":250,"h":450},{"s":"SGQN","x":90,"y":380,"l":280,"h":500},{"s":"SGQN","x":100,"y":410,"l":300,"h":550},{"s":"SGQN","x":110,"y":450,"l":310,"h":600},{"s":"SGQN","x":120,"y":480,"l":330,"h":700},{"s":"SGQN","x":125,"y":540,"l":350,"h":800},{"s":"SGQN","x":135,"y":560,"l":380,"h":810},{"s":"SGQN","x":150,"y":610,"l":450,"h":800},{"s":"SGQN","x":160,"y":630,"l":480,"h":810},{"s":"SGQN","x":175,"y":630,"l":490,"h":810},{"s":"SGQN","x":190,"y":645,"l":500,"h":815},{"s":"SGQN","x":200,"y":640,"l":500,"h":815},{"s":"SGQN","x":210,"y":630,"l":500,"h":810},{"s":"SGQN","x":220,"y":610,"l":480,"h":800},{"s":"SGQN","x":230,"y":660,"l":520,"h":815},{"s":"SGQN","x":250,"y":670,"l":550,"h":820},{"s":"SGQN","x":265,"y":680,"l":560,"h":820},{"s":"SGQN","x":275,"y":690,"l":570,"h":825},{"s":"SGQN","x":290,"y":740,"l":600,"h":830},{"s":"SGQN","x":300,"y":700,"l":590,"h":825},{"s":"SGQN","x":310,"y":720,"l":600,"h":825},{"s":"SGQN","x":325,"y":730,"l":620,"h":825},{"s":"SGQN","x":340,"y":740,"l":630,"h":825},{"s":"SGQN","x":350,"y":740,"l":640,"h":825},{"s":"SGQN","x":365,"y":760,"l":650,"h":825},{"s":"SGQN","x":375,"y":755,"l":650,"h":820},{"s":"SGQN","x":390,"y":740,"l":640,"h":815},{"s":"SGQN","x":400,"y":750,"l":650,"h":820},{"s":"SGQN","x":415,"y":770,"l":670,"h":820},{"s":"SGQN","x":425,"y":765,"l":670,"h":820},{"s":"SGQN","x":440,"y":760,"l":660,"h":815},{"s":"SGQN","x":450,"y":770,"l":670,"h":820},{"s":"SGQN","x":465,"y":785,"l":700,"h":825},{"s":"SGQN","x":475,"y":775,"l":690,"h":820},{"s":"SGQN","x":485,"y":770,"l":680,"h":815},{"s":"SGQN","x":495,"y":780,"l":700,"h":820},{"s":"SGQN","x":500,"y":680,"l":620,"h":760},
      {"s":"CG2A","x":0,"y":0,"l":0,"h":0},{"s":"CG2A","x":5,"y":200,"l":150,"h":250},{"s":"CG2A","x":10,"y":250,"l":180,"h":330},{"s":"CG2A","x":15,"y":300,"l":220,"h":420},{"s":"CG2A","x":20,"y":350,"l":250,"h":500},{"s":"CG2A","x":25,"y":600,"l":450,"h":780},{"s":"CG2A","x":30,"y":750,"l":650,"h":830},{"s":"CG2A","x":35,"y":770,"l":700,"h":830},{"s":"CG2A","x":45,"y":770,"l":730,"h":810},{"s":"CG2A","x":50,"y":720,"l":680,"h":770},{"s":"CG2A","x":55,"y":740,"l":700,"h":790},{"s":"CG2A","x":60,"y":780,"l":740,"h":820},{"s":"CG2A","x":70,"y":780,"l":745,"h":815},{"s":"CG2A","x":75,"y":760,"l":725,"h":795},{"s":"CG2A","x":80,"y":780,"l":745,"h":815},{"s":"CG2A","x":90,"y":775,"l":740,"h":810},{"s":"CG2A","x":100,"y":750,"l":715,"h":790},{"s":"CG2A","x":110,"y":770,"l":735,"h":805},{"s":"CG2A","x":120,"y":780,"l":745,"h":820},{"s":"CG2A","x":125,"y":790,"l":750,"h":830},{"s":"CG2A","x":130,"y":670,"l":620,"h":760},{"s":"CG2A","x":135,"y":780,"l":740,"h":830},{"s":"CG2A","x":150,"y":800,"l":770,"h":835},{"s":"CG2A","x":175,"y":810,"l":780,"h":840},{"s":"CG2A","x":200,"y":808,"l":780,"h":836},{"s":"CG2A","x":225,"y":820,"l":792,"h":848},{"s":"CG2A","x":250,"y":815,"l":787,"h":843},{"s":"CG2A","x":275,"y":822,"l":794,"h":850},{"s":"CG2A","x":300,"y":815,"l":787,"h":843},{"s":"CG2A","x":325,"y":820,"l":792,"h":848},{"s":"CG2A","x":345,"y":815,"l":787,"h":843},{"s":"CG2A","x":350,"y":760,"l":720,"h":810},{"s":"CG2A","x":355,"y":820,"l":792,"h":848},{"s":"CG2A","x":375,"y":825,"l":797,"h":853},{"s":"CG2A","x":400,"y":825,"l":797,"h":853},{"s":"CG2A","x":425,"y":820,"l":792,"h":848},{"s":"CG2A","x":450,"y":828,"l":800,"h":856},{"s":"CG2A","x":475,"y":825,"l":797,"h":853},{"s":"CG2A","x":500,"y":830,"l":802,"h":858}
    ],
    "ch": [
      {"s":"DrQ","x":0,"y":0,"l":0,"h":0},{"s":"DrQ","x":5,"y":40,"l":20,"h":70},{"s":"DrQ","x":10,"y":70,"l":40,"h":110},{"s":"DrQ","x":15,"y":85,"l":50,"h":130},{"s":"DrQ","x":20,"y":100,"l":60,"h":150},{"s":"DrQ","x":25,"y":105,"l":60,"h":160},{"s":"DrQ","x":30,"y":110,"l":60,"h":160},{"s":"DrQ","x":35,"y":115,"l":65,"h":170},{"s":"DrQ","x":40,"y":120,"l":70,"h":175},{"s":"DrQ","x":45,"y":110,"l":60,"h":165},{"s":"DrQ","x":50,"y":130,"l":80,"h":180},{"s":"DrQ","x":55,"y":115,"l":65,"h":170},{"s":"DrQ","x":60,"y":120,"l":70,"h":175},{"s":"DrQ","x":70,"y":140,"l":90,"h":190},{"s":"DrQ","x":75,"y":135,"l":85,"h":185},{"s":"DrQ","x":80,"y":150,"l":100,"h":200},{"s":"DrQ","x":90,"y":150,"l":100,"h":200},{"s":"DrQ","x":100,"y":160,"l":110,"h":210},{"s":"DrQ","x":110,"y":165,"l":115,"h":215},{"s":"DrQ","x":120,"y":175,"l":125,"h":225},{"s":"DrQ","x":125,"y":170,"l":120,"h":220},{"s":"DrQ","x":135,"y":180,"l":130,"h":230},{"s":"DrQ","x":150,"y":185,"l":140,"h":230},{"s":"DrQ","x":165,"y":192,"l":148,"h":236},{"s":"DrQ","x":175,"y":200,"l":160,"h":240},{"s":"DrQ","x":190,"y":198,"l":158,"h":238},{"s":"DrQ","x":200,"y":210,"l":170,"h":250},{"s":"DrQ","x":215,"y":205,"l":165,"h":245},{"s":"DrQ","x":225,"y":215,"l":175,"h":255},{"s":"DrQ","x":240,"y":212,"l":172,"h":252},{"s":"DrQ","x":250,"y":220,"l":180,"h":260},{"s":"DrQ","x":265,"y":218,"l":178,"h":258},{"s":"DrQ","x":275,"y":225,"l":185,"h":265},{"s":"DrQ","x":290,"y":222,"l":182,"h":262},{"s":"DrQ","x":300,"y":225,"l":185,"h":265},{"s":"DrQ","x":315,"y":222,"l":182,"h":262},{"s":"DrQ","x":325,"y":228,"l":188,"h":268},{"s":"DrQ","x":340,"y":225,"l":185,"h":265},{"s":"DrQ","x":350,"y":230,"l":190,"h":270},{"s":"DrQ","x":365,"y":228,"l":188,"h":268},{"s":"DrQ","x":375,"y":232,"l":192,"h":272},{"s":"DrQ","x":390,"y":226,"l":186,"h":266},{"s":"DrQ","x":400,"y":235,"l":195,"h":275},{"s":"DrQ","x":415,"y":230,"l":190,"h":270},{"s":"DrQ","x":425,"y":238,"l":198,"h":278},{"s":"DrQ","x":440,"y":232,"l":192,"h":272},{"s":"DrQ","x":450,"y":236,"l":196,"h":276},{"s":"DrQ","x":465,"y":240,"l":200,"h":280},{"s":"DrQ","x":475,"y":242,"l":202,"h":282},{"s":"DrQ","x":490,"y":238,"l":198,"h":278},{"s":"DrQ","x":500,"y":235,"l":195,"h":275},
      {"s":"SVEA","x":0,"y":0,"l":0,"h":0},{"s":"SVEA","x":5,"y":50,"l":30,"h":70},{"s":"SVEA","x":10,"y":80,"l":55,"h":105},{"s":"SVEA","x":15,"y":90,"l":65,"h":115},{"s":"SVEA","x":20,"y":110,"l":85,"h":135},{"s":"SVEA","x":25,"y":125,"l":100,"h":150},{"s":"SVEA","x":30,"y":125,"l":100,"h":150},{"s":"SVEA","x":35,"y":120,"l":95,"h":145},{"s":"SVEA","x":40,"y":130,"l":105,"h":155},{"s":"SVEA","x":45,"y":140,"l":115,"h":165},{"s":"SVEA","x":50,"y":150,"l":125,"h":175},{"s":"SVEA","x":55,"y":130,"l":105,"h":155},{"s":"SVEA","x":60,"y":140,"l":115,"h":165},{"s":"SVEA","x":65,"y":165,"l":140,"h":190},{"s":"SVEA","x":70,"y":170,"l":145,"h":195},{"s":"SVEA","x":75,"y":160,"l":135,"h":185},{"s":"SVEA","x":80,"y":165,"l":140,"h":190},{"s":"SVEA","x":90,"y":160,"l":135,"h":185},{"s":"SVEA","x":100,"y":170,"l":145,"h":195},{"s":"SVEA","x":110,"y":175,"l":150,"h":200},{"s":"SVEA","x":120,"y":180,"l":155,"h":205},{"s":"SVEA","x":125,"y":190,"l":165,"h":215},{"s":"SVEA","x":135,"y":185,"l":160,"h":210},{"s":"SVEA","x":150,"y":195,"l":170,"h":220},{"s":"SVEA","x":165,"y":192,"l":167,"h":217},{"s":"SVEA","x":175,"y":200,"l":175,"h":225},{"s":"SVEA","x":190,"y":198,"l":173,"h":223},{"s":"SVEA","x":200,"y":210,"l":185,"h":235},{"s":"SVEA","x":215,"y":205,"l":180,"h":230},{"s":"SVEA","x":225,"y":215,"l":190,"h":240},{"s":"SVEA","x":240,"y":212,"l":187,"h":237},{"s":"SVEA","x":250,"y":220,"l":195,"h":245},{"s":"SVEA","x":265,"y":218,"l":193,"h":243},{"s":"SVEA","x":275,"y":225,"l":200,"h":250},{"s":"SVEA","x":290,"y":222,"l":197,"h":247},{"s":"SVEA","x":300,"y":230,"l":205,"h":255},{"s":"SVEA","x":315,"y":225,"l":200,"h":250},{"s":"SVEA","x":325,"y":220,"l":195,"h":245},{"s":"SVEA","x":340,"y":215,"l":190,"h":240},{"s":"SVEA","x":350,"y":218,"l":193,"h":243},{"s":"SVEA","x":365,"y":210,"l":185,"h":235},{"s":"SVEA","x":375,"y":220,"l":195,"h":245},{"s":"SVEA","x":390,"y":215,"l":190,"h":240},{"s":"SVEA","x":400,"y":212,"l":187,"h":237},{"s":"SVEA","x":415,"y":218,"l":193,"h":243},{"s":"SVEA","x":425,"y":210,"l":185,"h":235},{"s":"SVEA","x":440,"y":215,"l":190,"h":240},{"s":"SVEA","x":450,"y":220,"l":195,"h":245},{"s":"SVEA","x":465,"y":208,"l":183,"h":233},{"s":"SVEA","x":475,"y":215,"l":190,"h":240},{"s":"SVEA","x":490,"y":220,"l":195,"h":245},{"s":"SVEA","x":500,"y":215,"l":190,"h":240},
      {"s":"SGQN","x":0,"y":0,"l":0,"h":0},{"s":"SGQN","x":5,"y":50,"l":20,"h":80},{"s":"SGQN","x":10,"y":110,"l":70,"h":150},{"s":"SGQN","x":15,"y":140,"l":100,"h":180},{"s":"SGQN","x":20,"y":150,"l":110,"h":190},{"s":"SGQN","x":25,"y":170,"l":130,"h":210},{"s":"SGQN","x":30,"y":175,"l":135,"h":215},{"s":"SGQN","x":35,"y":190,"l":150,"h":230},{"s":"SGQN","x":40,"y":200,"l":160,"h":240},{"s":"SGQN","x":45,"y":185,"l":145,"h":225},{"s":"SGQN","x":50,"y":180,"l":140,"h":220},{"s":"SGQN","x":55,"y":175,"l":135,"h":215},{"s":"SGQN","x":60,"y":185,"l":145,"h":225},{"s":"SGQN","x":70,"y":190,"l":150,"h":230},{"s":"SGQN","x":75,"y":200,"l":160,"h":240},{"s":"SGQN","x":85,"y":210,"l":170,"h":250},{"s":"SGQN","x":90,"y":215,"l":175,"h":255},{"s":"SGQN","x":100,"y":225,"l":185,"h":265},{"s":"SGQN","x":110,"y":230,"l":190,"h":270},{"s":"SGQN","x":120,"y":235,"l":195,"h":275},{"s":"SGQN","x":130,"y":220,"l":180,"h":260},{"s":"SGQN","x":140,"y":225,"l":185,"h":265},{"s":"SGQN","x":150,"y":235,"l":195,"h":275},{"s":"SGQN","x":160,"y":230,"l":190,"h":270},{"s":"SGQN","x":175,"y":240,"l":200,"h":280},{"s":"SGQN","x":185,"y":245,"l":205,"h":285},{"s":"SGQN","x":200,"y":240,"l":200,"h":280},{"s":"SGQN","x":215,"y":245,"l":205,"h":285},{"s":"SGQN","x":225,"y":250,"l":210,"h":290},{"s":"SGQN","x":240,"y":245,"l":205,"h":285},{"s":"SGQN","x":250,"y":250,"l":210,"h":290},{"s":"SGQN","x":265,"y":255,"l":215,"h":295},{"s":"SGQN","x":275,"y":252,"l":212,"h":292},{"s":"SGQN","x":290,"y":258,"l":218,"h":298},{"s":"SGQN","x":300,"y":255,"l":215,"h":295},{"s":"SGQN","x":315,"y":245,"l":205,"h":285},{"s":"SGQN","x":325,"y":240,"l":200,"h":280},{"s":"SGQN","x":340,"y":250,"l":210,"h":290},{"s":"SGQN","x":350,"y":245,"l":205,"h":285},{"s":"SGQN","x":365,"y":240,"l":200,"h":280},{"s":"SGQN","x":375,"y":245,"l":205,"h":285},{"s":"SGQN","x":390,"y":240,"l":200,"h":280},{"s":"SGQN","x":400,"y":250,"l":210,"h":290},{"s":"SGQN","x":415,"y":245,"l":205,"h":285},{"s":"SGQN","x":425,"y":250,"l":210,"h":290},{"s":"SGQN","x":440,"y":245,"l":205,"h":285},{"s":"SGQN","x":450,"y":255,"l":215,"h":295},{"s":"SGQN","x":465,"y":250,"l":210,"h":290},{"s":"SGQN","x":475,"y":260,"l":220,"h":300},{"s":"SGQN","x":490,"y":255,"l":215,"h":295},{"s":"SGQN","x":500,"y":250,"l":210,"h":290},
      {"s":"CG2A","x":0,"y":0,"l":0,"h":0},{"s":"CG2A","x":5,"y":60,"l":20,"h":100},{"s":"CG2A","x":10,"y":130,"l":90,"h":170},{"s":"CG2A","x":15,"y":150,"l":110,"h":190},{"s":"CG2A","x":20,"y":160,"l":120,"h":210},{"s":"CG2A","x":25,"y":170,"l":130,"h":220},{"s":"CG2A","x":30,"y":175,"l":135,"h":220},{"s":"CG2A","x":35,"y":160,"l":120,"h":210},{"s":"CG2A","x":40,"y":170,"l":130,"h":215},{"s":"CG2A","x":45,"y":165,"l":125,"h":210},{"s":"CG2A","x":50,"y":185,"l":140,"h":225},{"s":"CG2A","x":55,"y":175,"l":135,"h":215},{"s":"CG2A","x":60,"y":190,"l":150,"h":230},{"s":"CG2A","x":70,"y":200,"l":160,"h":240},{"s":"CG2A","x":75,"y":210,"l":170,"h":250},{"s":"CG2A","x":85,"y":200,"l":160,"h":240},{"s":"CG2A","x":90,"y":205,"l":165,"h":245},{"s":"CG2A","x":100,"y":220,"l":180,"h":260},{"s":"CG2A","x":110,"y":210,"l":170,"h":250},{"s":"CG2A","x":120,"y":215,"l":175,"h":255},{"s":"CG2A","x":130,"y":230,"l":190,"h":270},{"s":"CG2A","x":140,"y":225,"l":185,"h":265},{"s":"CG2A","x":150,"y":240,"l":200,"h":280},{"s":"CG2A","x":160,"y":235,"l":195,"h":275},{"s":"CG2A","x":175,"y":245,"l":205,"h":285},{"s":"CG2A","x":185,"y":240,"l":200,"h":280},{"s":"CG2A","x":200,"y":245,"l":205,"h":290},{"s":"CG2A","x":215,"y":240,"l":200,"h":285},{"s":"CG2A","x":225,"y":250,"l":210,"h":295},{"s":"CG2A","x":240,"y":248,"l":205,"h":295},{"s":"CG2A","x":250,"y":255,"l":212,"h":300},{"s":"CG2A","x":265,"y":252,"l":210,"h":300},{"s":"CG2A","x":275,"y":260,"l":215,"h":305},{"s":"CG2A","x":290,"y":262,"l":215,"h":310},{"s":"CG2A","x":300,"y":270,"l":225,"h":315},{"s":"CG2A","x":315,"y":275,"l":230,"h":320},{"s":"CG2A","x":325,"y":280,"l":235,"h":325},{"s":"CG2A","x":340,"y":282,"l":235,"h":330},{"s":"CG2A","x":350,"y":285,"l":238,"h":335},{"s":"CG2A","x":365,"y":288,"l":240,"h":340},{"s":"CG2A","x":375,"y":290,"l":242,"h":345},{"s":"CG2A","x":390,"y":295,"l":245,"h":350},{"s":"CG2A","x":400,"y":300,"l":250,"h":355},{"s":"CG2A","x":415,"y":305,"l":255,"h":360},{"s":"CG2A","x":425,"y":310,"l":258,"h":365},{"s":"CG2A","x":440,"y":315,"l":260,"h":370},{"s":"CG2A","x":450,"y":300,"l":250,"h":360},{"s":"CG2A","x":460,"y":305,"l":255,"h":365},{"s":"CG2A","x":470,"y":310,"l":260,"h":370},{"s":"CG2A","x":480,"y":320,"l":265,"h":380},{"s":"CG2A","x":490,"y":335,"l":280,"h":395},{"s":"CG2A","x":495,"y":330,"l":275,"h":390},{"s":"CG2A","x":500,"y":310,"l":260,"h":370}
    ]
  }
}
